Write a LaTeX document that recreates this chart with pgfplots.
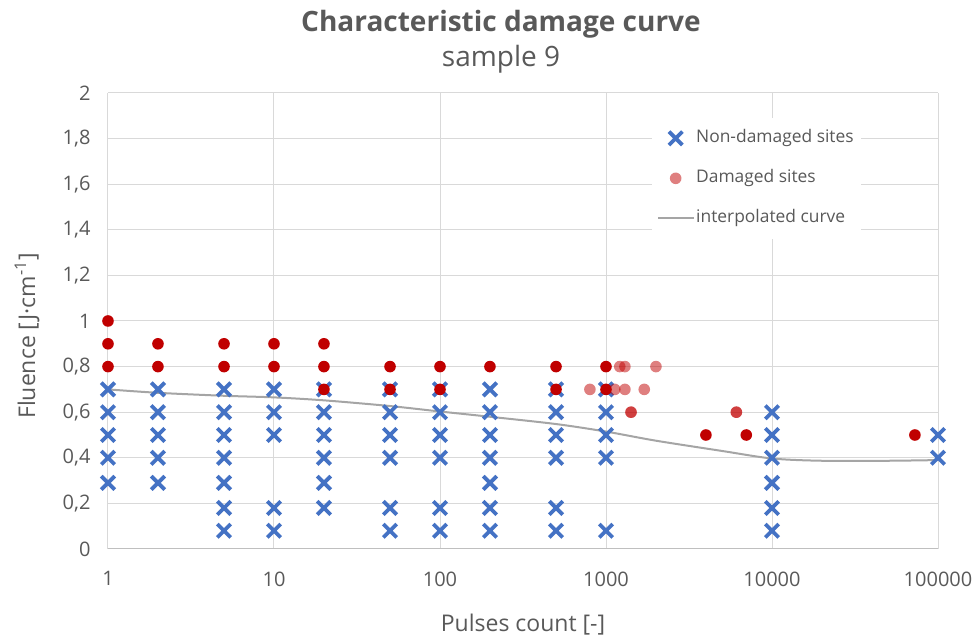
\documentclass[border=0pt]{standalone}
\usepackage{fontspec}
\setmainfont{Open Sans}
\usepackage{pgfplots}
\pgfplotsset{compat=1.18}
\definecolor{txt}{HTML}{595959}
\definecolor{grd}{HTML}{D9D9D9}
\definecolor{xblue}{HTML}{4472C4}
\definecolor{dred}{HTML}{C00000}
\definecolor{curvegray}{HTML}{A5A5A5}

\begin{document}
\begin{tikzpicture}
\begin{axis}[%
scale only axis,
width=830pt, height=456pt,
xmode=log, xmin=1, xmax=100000,
ymin=0, ymax=2,
xtick={1,10,100,1000,10000,100000},
xticklabels={1,10,100,1000,10000,100000},
ytick={0,0.2,0.4,0.6,0.8,1,1.2,1.4,1.6,1.8,2},
/pgf/number format/use comma,
/pgf/number format/fixed,
/pgf/number format/precision=1,
/pgf/number format/assume math mode=true,
ticklabel style={font=\fontsize{20}{24}\selectfont, text=txt},
xticklabel style={yshift=-19pt},
yticklabel style={xshift=-14pt},
major tick length=0pt, minor tick length=0pt,
grid=major,
major grid style={grd, line width=1pt},
axis line style={draw=none},
clip=false,
legend style={at={(rel axis cs:0.6554,0.946)}, anchor=north west,
  fill=white, draw=none, text=txt,
  font=\fontsize{17.4}{21}\selectfont,
  inner xsep=5pt, inner ysep=12pt, row sep=23pt,
  nodes={inner ysep=0pt, inner xsep=2pt, text height=13pt, text depth=4pt}},
legend cell align=left,
legend image code/.code={\draw[mark repeat=2,mark phase=2,#1] plot coordinates {(0pt,0pt)(17.5pt,0pt)(35pt,0pt)};},
]
\coordinate (bl) at (rel axis cs:0,0);
\coordinate (tr) at (rel axis cs:1,1);
\draw[color=black!25, line width=1pt] (rel axis cs:0,0) -- (rel axis cs:1,0);

% non-damaged sites
\addplot [only marks, mark=x, color=xblue, mark size=9.5pt,
  mark options={line width=3.8pt, line cap=butt}] coordinates {
(1,0.7)(1,0.6)(1,0.5)(1,0.4)(1,0.29)
(2,0.7)(2,0.6)(2,0.5)(2,0.4)(2,0.29)
(5,0.7)(5,0.6)(5,0.5)(5,0.4)(5,0.29)(5,0.18)(5,0.08)
(10,0.7)(10,0.6)(10,0.5)(10,0.18)(10,0.08)
(20,0.7)(20,0.6)(20,0.5)(20,0.4)(20,0.29)(20,0.18)
(50,0.7)(50,0.6)(50,0.5)(50,0.4)(50,0.18)(50,0.08)
(100,0.7)(100,0.6)(100,0.5)(100,0.4)(100,0.18)(100,0.08)
(200,0.7)(200,0.6)(200,0.5)(200,0.4)(200,0.29)(200,0.18)(200,0.08)
(500,0.7)(500,0.6)(500,0.5)(500,0.4)(500,0.18)(500,0.08)
(1000,0.7)(1000,0.6)(1000,0.5)(1000,0.4)(1000,0.08)
(10000,0.6)(10000,0.5)(10000,0.4)(10000,0.29)(10000,0.18)(10000,0.08)
(100000,0.5)(100000,0.4)
};
\addlegendentry{Non-damaged sites};

% damaged sites (single)
\addplot [only marks, mark=*, color=dred, mark size=5.8pt,
  mark options={draw opacity=0, fill opacity=0.5}] coordinates {
(800,0.7)(1130,0.7)(1210,0.8)(1300,0.8)(1300,0.7)(1700,0.7)(2000,0.8)
(1415,0.6)(1415,0.6)(6100,0.6)(6100,0.6)
};
\addlegendentry{Damaged sites};

% damaged sites (repeated)
\addplot [forget plot, only marks, mark=*, color=dred, mark size=5.8pt,
  mark options={draw opacity=0}] coordinates {
(1,1.0)(1,0.9)(1,0.8)
(2,0.9)(2,0.8)
(5,0.9)(5,0.8)
(10,0.9)(10,0.8)
(20,0.9)(20,0.8)(20,0.7)
(50,0.8)(50,0.7)
(100,0.8)(100,0.7)
(200,0.8)
(500,0.8)(500,0.7)
(1000,0.8)(1000,0.7)
(4000,0.5)(7000,0.5)(72600,0.5)
};

\addplot [color=curvegray, line width=2pt, smooth] coordinates {
(1,0.70)(2,0.685)(5,0.672)(10,0.665)(20,0.652)(50,0.627)(100,0.603)(200,0.58)
(500,0.548)(1000,0.515)(2000,0.475)(5000,0.43)(10000,0.397)(20000,0.387)
(50000,0.387)(100000,0.39)
};
\addlegendentry{interpolated curve};

\node[anchor=base, text=txt, font=\fontsize{28}{34}\selectfont\bfseries]
  at ([xshift=-22pt,yshift=61pt]rel axis cs:0.5,1) {Characteristic damage curve};
\node[anchor=base, text=txt, font=\fontsize{28}{34}\selectfont]
  at ([xshift=-22pt,yshift=26pt]rel axis cs:0.5,1) {sample 9};
\node[anchor=center, text=txt, font=\fontsize{23}{28}\selectfont]
  at ([yshift=-76pt]rel axis cs:0.5,0) {Pulses count [-]};
\node[anchor=center, rotate=90, text=txt, font=\fontsize{23}{28}\selectfont]
  at ([xshift=-81pt]rel axis cs:0,0.467) {Fluence [J·cm\textsuperscript{-1}]};
\end{axis}
\pgfresetboundingbox
\useasboundingbox ([shift={(-108pt,-93pt)}]bl) rectangle ([shift={(40pt,93pt)}]tr);
\end{tikzpicture}
\end{document}
